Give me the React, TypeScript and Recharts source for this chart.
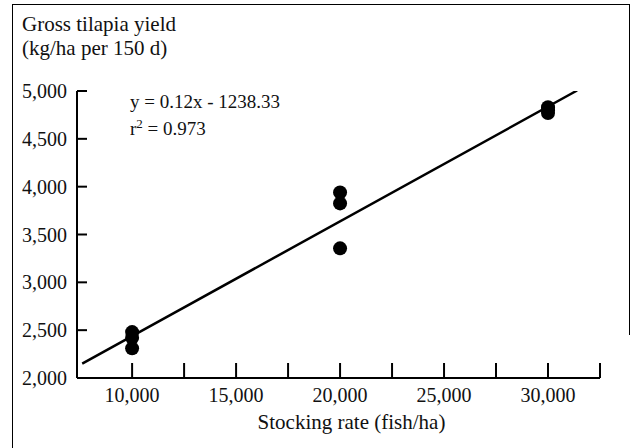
import { ScatterChart, Scatter, XAxis, YAxis, Label } from "recharts";

const stockingRates = [10000, 10000, 10000, 20000, 20000, 20000, 30000, 30000, 30000];
const yields = [2480, 2420, 2310, 3940, 3825, 3355, 4830, 4800, 4770];

const xTicks = [10000, 12500, 15000, 17500, 20000, 22500, 25000, 27500, 30000, 32500];
const yTicks = [2000, 2500, 3000, 3500, 4000, 4500, 5000];

// fitted line end points
const fitX = [7600, 31400];
const fitY = [2150, 5005];

const points = stockingRates.map((x, i) => ({ x, y: yields[i] }));
const fitLine = fitX.map((x, i) => ({ x, y: fitY[i] }));

const FONT = "'Liberation Serif', 'DejaVu Serif', serif";

function Dot({ cx, cy }: { cx?: number; cy?: number }) {
  return <circle cx={cx} cy={cy} r={7} fill="#000" />;
}

function XTick({ x, y, payload }: { x?: number; y?: number; payload?: { value: number } }) {
  const v = payload?.value ?? 0;
  return (
    <g>
      <line x1={x} y1={y} x2={x} y2={(y ?? 0) - 15} stroke="#000" strokeWidth={2} />
      {v % 5000 === 0 && (
        <text x={x} y={(y ?? 0) + 24} textAnchor="middle" fontSize={20} fontFamily={FONT} fill="#111">
          {v.toLocaleString("en-US")}
        </text>
      )}
    </g>
  );
}

function YTick({ x, y, payload }: { x?: number; y?: number; payload?: { value: number } }) {
  const v = payload?.value ?? 0;
  return (
    <g>
      {v > 2000 && <line x1={x} y1={y} x2={(x ?? 0) + 10} y2={y} stroke="#000" strokeWidth={2} />}
      <text x={(x ?? 0) - 10} y={(y ?? 0) + 7} textAnchor="end" fontSize={20} fontFamily={FONT} fill="#111">
        {v.toLocaleString("en-US")}
      </text>
    </g>
  );
}

export default function App() {
  return (
    <div style={{ position: "absolute", left: 0, top: 0, width: 633, height: 448, background: "#fff", fontFamily: FONT }}>
      <div
        style={{
          position: "absolute",
          left: 12,
          top: 4,
          width: 616,
          height: 330,
          borderLeft: "1.5px solid #000",
          borderTop: "1.5px solid #000",
          borderRight: "1.5px solid #000",
        }}
      />
      <div style={{ position: "absolute", left: 12, top: 448 - 114, height: 114, borderLeft: "1.5px solid #000" }} />
      <div style={{ position: "absolute", left: 22, top: 12, fontSize: 21, lineHeight: "24px", color: "#111" }}>
        Gross tilapia yield
        <br />
        (kg/ha per 150 d)
      </div>
      <div style={{ position: "absolute", left: 130, top: 88, fontSize: 19, lineHeight: "27px", color: "#111" }}>
        y = 0.12x - 1238.33
        <br />
        r<sup style={{ fontSize: 13, lineHeight: 0 }}>2</sup> = 0.973
      </div>
      <div style={{ position: "absolute", left: 0, top: 0 }}>
        <ScatterChart width={633} height={448} margin={{ top: 91, left: 27, right: 33, bottom: 30 }}>
          <XAxis
            type="number"
            dataKey="x"
            domain={[7350, 32500]}
            ticks={xTicks}
            allowDataOverflow
            height={40}
            tickSize={0}
            tickMargin={0}
            tickLine={false}
            tick={<XTick />}
            axisLine={{ stroke: "#000", strokeWidth: 2 }}
            interval={0}
          >
            <Label
              value="Stocking rate (fish/ha)"
              position="bottom"
              offset={-4}
              dx={13}
              style={{ fontSize: 21, fontFamily: FONT, fill: "#111" }}
            />
          </XAxis>
          <YAxis
            type="number"
            dataKey="y"
            domain={[2000, 5000]}
            ticks={yTicks}
            allowDataOverflow
            width={50}
            tickSize={0}
            tickMargin={0}
            tickLine={false}
            tick={<YTick />}
            axisLine={{ stroke: "#000", strokeWidth: 2 }}
            interval={0}
          />
          <Scatter
            data={fitLine}
            line={{ stroke: "#000", strokeWidth: 2.5 }}
            shape={() => <g />}
            isAnimationActive={false}
          />
          <Scatter data={points} shape={<Dot />} isAnimationActive={false} />
        </ScatterChart>
      </div>
    </div>
  );
}
